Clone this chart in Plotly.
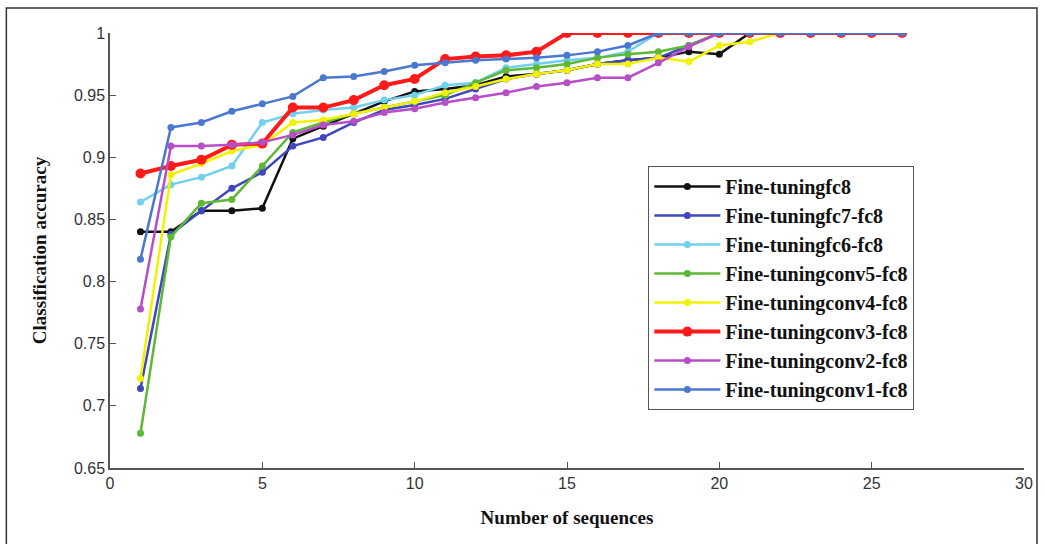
import plotly.graph_objects as go

x = list(range(1, 27))

names = ["Fine-tuningfc8", "Fine-tuningfc7-fc8", "Fine-tuningfc6-fc8", "Fine-tuningconv5-fc8",
         "Fine-tuningconv4-fc8", "Fine-tuningconv3-fc8", "Fine-tuningconv2-fc8", "Fine-tuningconv1-fc8"]

fc8 = [0.840, 0.840, 0.857, 0.857, 0.859, 0.915, 0.925, 0.935, 0.945, 0.953, 0.955, 0.958, 0.965,
       0.967, 0.970, 0.975, 0.978, 0.980, 0.985, 0.983, 1, 1, 1, 1, 1, 1]
fc7 = [0.714, 0.838, 0.857, 0.875, 0.888, 0.909, 0.916, 0.928, 0.938, 0.942, 0.947, 0.955, 0.963,
       0.967, 0.970, 0.975, 0.978, 0.980, 0.990, 1, 1, 1, 1, 1, 1, 1]
fc6 = [0.864, 0.878, 0.884, 0.893, 0.928, 0.935, 0.938, 0.940, 0.946, 0.950, 0.958, 0.960, 0.972,
       0.975, 0.978, 0.980, 0.985, 1, 1, 1, 1, 1, 1, 1, 1, 1]
conv5 = [0.678, 0.836, 0.863, 0.866, 0.893, 0.920, 0.928, 0.935, 0.940, 0.945, 0.950, 0.960, 0.970,
         0.972, 0.975, 0.980, 0.983, 0.985, 0.990, 1, 1, 1, 1, 1, 1, 1]
conv4 = [0.722, 0.886, 0.895, 0.905, 0.910, 0.928, 0.930, 0.935, 0.940, 0.945, 0.952, 0.957, 0.963,
         0.967, 0.970, 0.975, 0.975, 0.980, 0.977, 0.990, 0.993, 1, 1, 1, 1, 1]
conv3 = [0.887, 0.893, 0.898, 0.910, 0.911, 0.940, 0.940, 0.946, 0.958, 0.963, 0.979, 0.981, 0.982,
         0.985, 1, 1, 1, 1, 1, 1, 1, 1, 1, 1, 1, 1]
conv2 = [0.778, 0.909, 0.909, 0.910, 0.912, 0.918, 0.926, 0.929, 0.936, 0.939, 0.944, 0.948, 0.952,
         0.957, 0.960, 0.964, 0.964, 0.976, 0.989, 1, 1, 1, 1, 1, 1, 1]
conv1 = [0.818, 0.924, 0.928, 0.937, 0.943, 0.949, 0.964, 0.965, 0.969, 0.974, 0.976, 0.978, 0.979,
         0.980, 0.982, 0.985, 0.990, 1, 1, 1, 1, 1, 1, 1, 1, 1]

series = [fc8, fc7, fc6, conv5, conv4, conv3, conv2, conv1]
colors = ["#111111", "#3f46c0", "#70d0ee", "#5cb835", "#f2f200", "#ff1a1a", "#b84dc8", "#4a78d0"]
widths = [2.5, 2.5, 2.5, 2.5, 2.5, 4, 2.5, 2.5]
msizes = [7, 7, 7, 7, 7, 10, 7, 7]

yticks = [0.65, 0.7, 0.75, 0.8, 0.85, 0.9, 0.95, 1]
ytick_text = ["0.65", "0.7", "0.75", "0.8", "0.85", "0.9", "0.95", "1"]
xticks = [0, 5, 10, 15, 20, 25, 30]

fig = go.Figure()
for i, (n, s, c, w, m) in enumerate(zip(names, series, colors, widths, msizes)):
    fig.add_trace(go.Scatter(x=x, y=s, name=n, mode="lines+markers", legendgroup=f"g{i}",
                             line=dict(color=c, width=w),
                             marker=dict(color=c, size=m, symbol="circle")))

fig.update_layout(
    width=1045, height=544,
    margin=dict(l=110, r=18, t=33, b=76),
    paper_bgcolor="white", plot_bgcolor="white",
    showlegend=True,
    legend=dict(x=0.589, y=0.694, xanchor="left", yanchor="top",
                bgcolor="white", bordercolor="#555555", borderwidth=1,
                font=dict(family="Liberation Serif", size=20, color="#111111", weight="bold"),
                itemwidth=66, tracegroupgap=0),
    xaxis=dict(range=[0, 30], tickvals=xticks, ticks="inside", ticklen=6, tickcolor="#555555",
               showline=True, linecolor="#555555", linewidth=1.5, showgrid=False, zeroline=False,
               tickfont=dict(family="Liberation Sans Narrow, Liberation Sans", size=16, color="#333333"),
               title=dict(text="<b>Number of sequences</b>", standoff=20,
                          font=dict(family="Liberation Serif", size=19, color="#111111"))),
    yaxis=dict(range=[0.65, 1], tickvals=yticks, ticktext=ytick_text, ticks="inside", ticklen=6,
               tickcolor="#555555", showline=True, linecolor="#555555", linewidth=1.5,
               showgrid=False, zeroline=False,
               tickfont=dict(family="Liberation Sans Narrow, Liberation Sans", size=16, color="#333333"),
               title=dict(text="<b>Classification accuracy</b>", standoff=22,
                          font=dict(family="Liberation Serif", size=19, color="#111111"))),
    shapes=[dict(type="rect", xref="paper", yref="paper", x0=-0.1134, x1=1.0142, y0=-0.2, y1=1.0575,
                 line=dict(color="#333333", width=1.5), fillcolor="rgba(0,0,0,0)", layer="below")],
)

fig.write_html("out.html")
